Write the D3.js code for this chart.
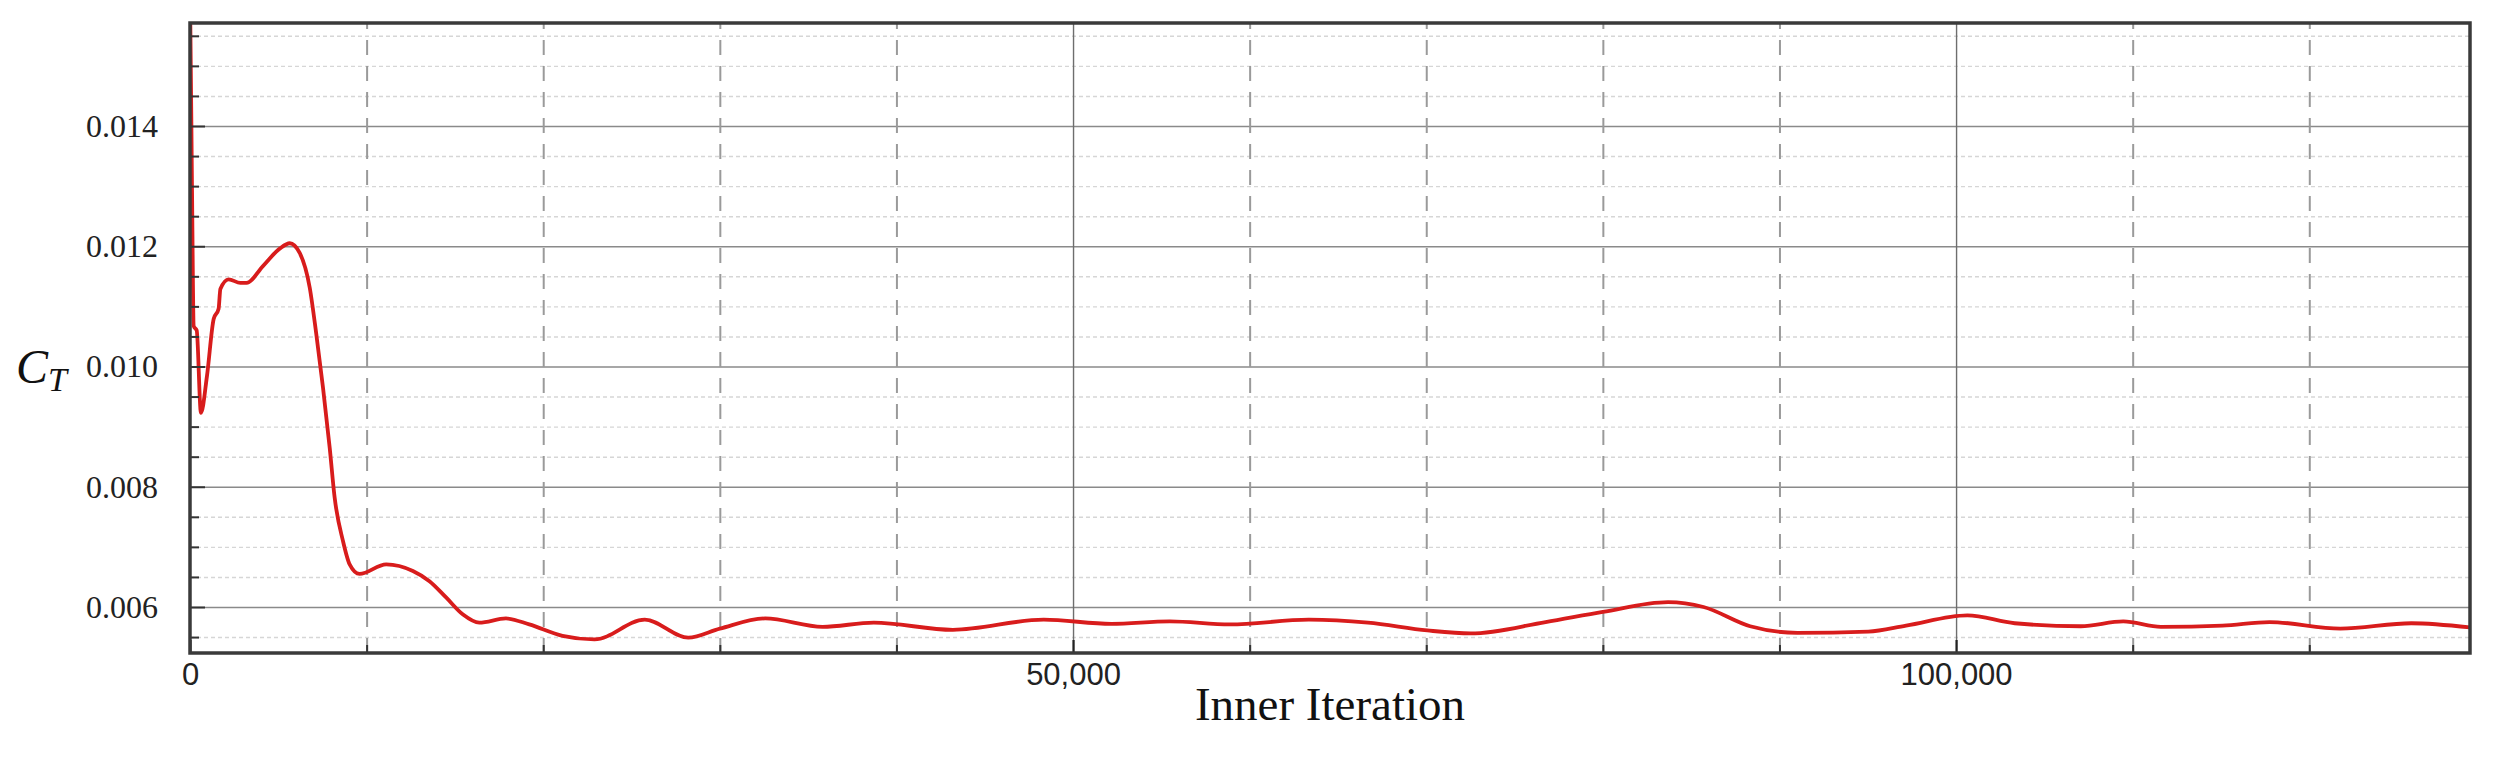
<!DOCTYPE html>
<html lang="en">
<head>
    <meta charset="UTF-8">
    <title>Thrust coefficient convergence</title>
    <script src="https://d3js.org/d3.v7.min.js"></script>
    <style>
        body {
            margin: 0;
            background: #fff;
        }
        .y-axis text {
            font-family: "Liberation Serif", "Times New Roman", serif;
            font-size: 32px;
            fill: #222;
        }
        .x-axis text {
            font-family: "Liberation Sans", Arial, sans-serif;
            font-size: 31px;
            fill: #222;
        }
        .axis-label {
            font-family: "Liberation Serif", "Times New Roman", serif;
            fill: #111;
        }
    </style>
</head>
<body>
    <svg width="2502" height="758"></svg>
    <script>
        // iteration / C_T samples
        const iterations = [0, 20, 110, 210, 380, 620, 960, 1340, 1620, 1720, 2190, 2850, 3200, 4130,
            5080, 5650, 6210, 6780, 7150, 7530, 7910, 8190, 8660, 9040, 9600, 11110, 12620, 13560,
            14500, 15440, 16380, 17890, 19210, 21090, 22900, 25750, 28210, 30000, 32570, 35820,
            38720, 43200, 48340, 52170, 55480, 58880, 63350, 66700, 70060, 72510, 76760, 80000,
            83690, 85700, 88340, 91020, 95030, 97170, 100640, 103320, 107060, 109470, 111600,
            115080, 117750, 121760, 125780, 129100];
        const ctValues = [0.0160, 0.01566, 0.01306, 0.01067, 0.01060, 0.00923, 0.00984, 0.01079,
            0.01096, 0.01129, 0.01145, 0.01139, 0.01139, 0.01167, 0.01196, 0.01205, 0.01189,
            0.01131, 0.01054, 0.00965, 0.00865, 0.00782, 0.00710, 0.00671, 0.00655, 0.00671,
            0.00660, 0.00643, 0.00616, 0.00588, 0.00574, 0.00581, 0.00571, 0.00552, 0.00546,
            0.00579, 0.00549, 0.00564, 0.00581, 0.00567, 0.00574, 0.00562, 0.00579, 0.00572,
            0.00576, 0.00571, 0.00579, 0.00574, 0.00561, 0.00556, 0.00575, 0.00592, 0.00608,
            0.00600, 0.00568, 0.00557, 0.00559, 0.00569, 0.00586, 0.00573, 0.00568, 0.00576,
            0.00567, 0.00569, 0.00575, 0.00564, 0.00573, 0.00566];

        const yMajorTicks = [0.006, 0.008, 0.010, 0.012, 0.014];
        const yMinorTicks = [0.0055, 0.0065, 0.0070, 0.0075, 0.0085, 0.0090, 0.0095, 0.0105,
            0.0110, 0.0115, 0.0125, 0.0130, 0.0135, 0.0145, 0.0150, 0.0155];
        const xMajorTicks = [0, 50000, 100000];
        const xMinorTicks = [10000, 20000, 30000, 40000, 60000, 70000, 80000, 90000, 110000, 120000];

        const data = iterations.map((it, i) => ({ it: it, ct: ctValues[i] }));

        const margin = { top: 23, right: 32, bottom: 105, left: 190 },
              width = 2502 - margin.left - margin.right,
              height = 758 - margin.top - margin.bottom;

        const svg = d3.select("svg")
            .append("g")
            .attr("transform", "translate(" + margin.left + "," + margin.top + ")");

        const x = d3.scaleLinear().domain([0, 129100]).range([0, width]);
        const y = d3.scaleLinear().domain([0.005235, 0.015713]).range([height, 0]);

        // horizontal grid
        svg.append("g")
            .call(d3.axisLeft(y).tickValues(yMinorTicks).tickSize(-width).tickFormat(""))
            .call(g => g.select(".domain").remove())
            .selectAll("line")
            .attr("stroke", "#d6d6d6")
            .attr("stroke-width", 1.4)
            .attr("stroke-dasharray", "4,3");

        svg.append("g")
            .call(d3.axisLeft(y).tickValues(yMajorTicks).tickSize(-width).tickFormat(""))
            .call(g => g.select(".domain").remove())
            .selectAll("line")
            .attr("stroke", "#8a8a8a")
            .attr("stroke-width", 1.6);

        // vertical grid
        svg.append("g")
            .attr("transform", "translate(0," + height + ")")
            .call(d3.axisBottom(x).tickValues(xMinorTicks).tickSize(-height).tickFormat(""))
            .call(g => g.select(".domain").remove())
            .selectAll("line")
            .attr("stroke", "#9a9a9a")
            .attr("stroke-width", 2)
            .attr("stroke-dasharray", "15,11");

        svg.append("g")
            .attr("transform", "translate(0," + height + ")")
            .call(d3.axisBottom(x).tickValues(xMajorTicks.slice(1)).tickSize(-height).tickFormat(""))
            .call(g => g.select(".domain").remove())
            .selectAll("line")
            .attr("stroke", "#6e6e6e")
            .attr("stroke-width", 1.4);

        // curve
        svg.append("clipPath")
            .attr("id", "plot-clip")
            .append("rect")
            .attr("width", width)
            .attr("height", height);

        const line = d3.line()
            .x(d => x(d.it))
            .y(d => y(d.ct))
            .curve(d3.curveMonotoneX);

        svg.append("path")
            .datum(data)
            .attr("clip-path", "url(#plot-clip)")
            .attr("fill", "none")
            .attr("stroke", "#d81c1c")
            .attr("stroke-width", 3.8)
            .attr("stroke-linejoin", "round")
            .attr("d", line);

        // axes with inward ticks
        svg.append("g")
            .attr("class", "y-axis")
            .call(d3.axisLeft(y).tickValues(yMinorTicks).tickSize(-9).tickFormat(""))
            .call(g => g.select(".domain").remove())
            .selectAll("line").attr("stroke", "#333").attr("stroke-width", 2);

        svg.append("g")
            .attr("class", "y-axis")
            .call(d3.axisLeft(y).tickValues(yMajorTicks).tickSize(-15).tickPadding(32).tickFormat(d3.format(".3f")))
            .call(g => g.select(".domain").remove())
            .call(g => g.selectAll("line").attr("stroke", "#333").attr("stroke-width", 2));

        svg.append("g")
            .attr("class", "x-axis")
            .attr("transform", "translate(0," + height + ")")
            .call(d3.axisBottom(x).tickValues(xMinorTicks).tickSize(-8).tickFormat(""))
            .call(g => g.select(".domain").remove())
            .selectAll("line").attr("stroke", "#333").attr("stroke-width", 2);

        svg.append("g")
            .attr("class", "x-axis")
            .attr("transform", "translate(0," + height + ")")
            .call(d3.axisBottom(x).tickValues(xMajorTicks).tickSize(-13).tickPadding(10).tickFormat(d3.format(",")))
            .call(g => g.select(".domain").remove())
            .call(g => g.selectAll("line").attr("stroke", "#222").attr("stroke-width", 2.2));

        // frame
        svg.append("rect")
            .attr("width", width)
            .attr("height", height)
            .attr("fill", "none")
            .attr("stroke", "#3a3a3a")
            .attr("stroke-width", 3.5);

        // labels
        svg.append("text")
            .attr("class", "axis-label")
            .attr("x", width / 2)
            .attr("y", height + 67)
            .attr("text-anchor", "middle")
            .style("font-size", "47px")
            .text("Inner Iteration");

        const ctLabel = svg.append("text")
            .attr("class", "axis-label")
            .attr("x", -174)
            .attr("y", y(0.010) + 17)
            .style("font-style", "italic");
        ctLabel.append("tspan").style("font-size", "48px").text("C");
        ctLabel.append("tspan").style("font-size", "34px").attr("dy", 8).text("T");
    </script>
</body>
</html>
